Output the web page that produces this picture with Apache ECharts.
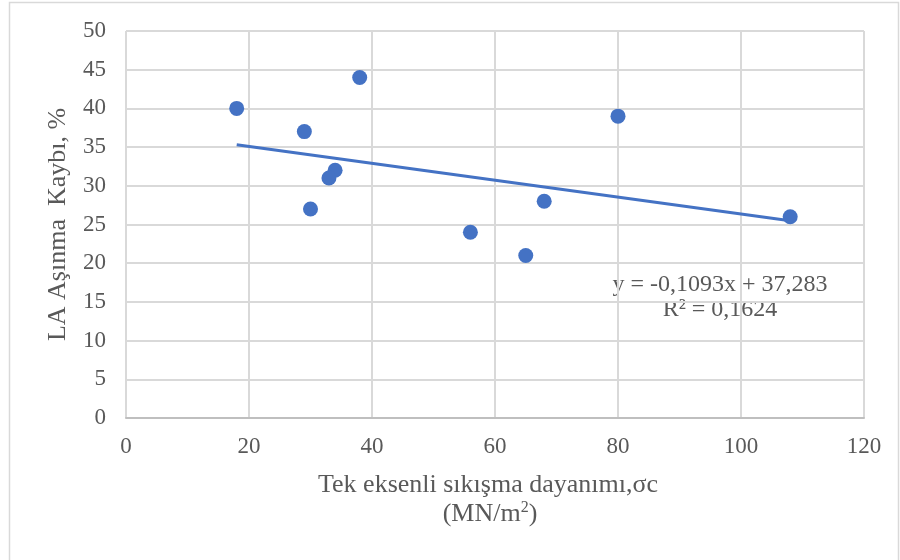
<!DOCTYPE html>
<html><head><meta charset="utf-8">
<script src="https://cdn.jsdelivr.net/npm/echarts@6/dist/echarts.min.js"></script>
<style>html,body{margin:0;padding:0;background:#fff}#c{width:900px;height:560px}</style>
</head><body><div id="c"></div>
<script>
const xValues = [18, 29, 38, 34, 33, 30, 56, 65, 68, 80, 108];
const yValues = [40, 37, 44, 32, 31, 27, 24, 21, 28, 39, 26];
const trendX = [18, 108];
const trendY = [35.31, 25.48];
const xTicks = { min: 0, max: 120, interval: 20 };
const yTicks = { min: 0, max: 50, interval: 5 };
const xTitle = 'Tek eksenli sıkışma dayanımı,σc';
const xTitle2 = '(MN/m{sup|2})';
const yTitle = 'LA Aşınma  Kaybı, %';
const eqText = 'y = -0,1093x + 37,283';
const r2Text = 'R² = 0,1624';

const FONT = '"Liberation Serif", "DejaVu Serif", serif';
const chart = echarts.init(document.getElementById('c'), null, {renderer: 'canvas'});
chart.setOption({
  animation: false,
  backgroundColor: '#fff',
  grid: { left: 126, right: 36, top: 31, bottom: 142, containLabel: false },
  xAxis: {
    type: 'value', min: xTicks.min, max: xTicks.max, interval: xTicks.interval,
    axisLine: { show: true, lineStyle: { color: '#bfbfbf', width: 2 } },
    axisTick: { show: false },
    axisLabel: { color: '#595959', fontFamily: FONT, fontSize: 23, margin: 17 },
    splitLine: { show: true, lineStyle: { color: '#d9d9d9', width: 2 } }
  },
  yAxis: {
    type: 'value', min: yTicks.min, max: yTicks.max, interval: yTicks.interval,
    name: yTitle, nameLocation: 'middle', nameGap: 55, nameRotate: 90,
    nameTextStyle: { color: '#595959', fontFamily: FONT, fontSize: 26 },
    axisLine: { show: false },
    axisTick: { show: false },
    axisLabel: { color: '#595959', fontFamily: FONT, fontSize: 23, margin: 20 },
    splitLine: { show: true, lineStyle: { color: '#d9d9d9', width: 2 } }
  },
  series: [
    {
      type: 'line', data: trendX.map((x, i) => [x, trendY[i]]),
      symbol: 'none', lineStyle: { color: '#4472C4', width: 3 }, z: 2, silent: true
    },
    {
      type: 'scatter', data: xValues.map((x, i) => [x, yValues[i]]),
      symbol: 'circle', symbolSize: 15, itemStyle: { color: '#4472C4', opacity: 1 }, z: 3
    }
  ],
  graphic: [
    { type: 'rect', shape: { x: 9.5, y: 2.5, width: 889, height: 600 },
      style: { fill: 'none', stroke: '#d9d9d9', lineWidth: 1.5 }, silent: true, z: -1 },
    { type: 'text', x: 488, y: 485, style: { text: xTitle, fill: '#595959', font: '26px ' + FONT, align: 'center', verticalAlign: 'middle' } },
    { type: 'text', x: 490, y: 514, style: { text: xTitle2, fill: '#595959', font: '26px ' + FONT, align: 'center', verticalAlign: 'middle',
        rich: { sup: { fontSize: 16, fill: '#595959', fontFamily: FONT, verticalAlign: 'top', padding: [0,0,12,0] } } } },
    { type: 'text', x: 720, y: 285, style: { text: eqText, fill: '#595959', font: '24px ' + FONT, align: 'center', verticalAlign: 'middle' } },
    { type: 'text', x: 720, y: 310, style: { text: r2Text, fill: '#595959', font: '24px ' + FONT, align: 'center', verticalAlign: 'middle' } }
  ]
});
</script></body></html>
